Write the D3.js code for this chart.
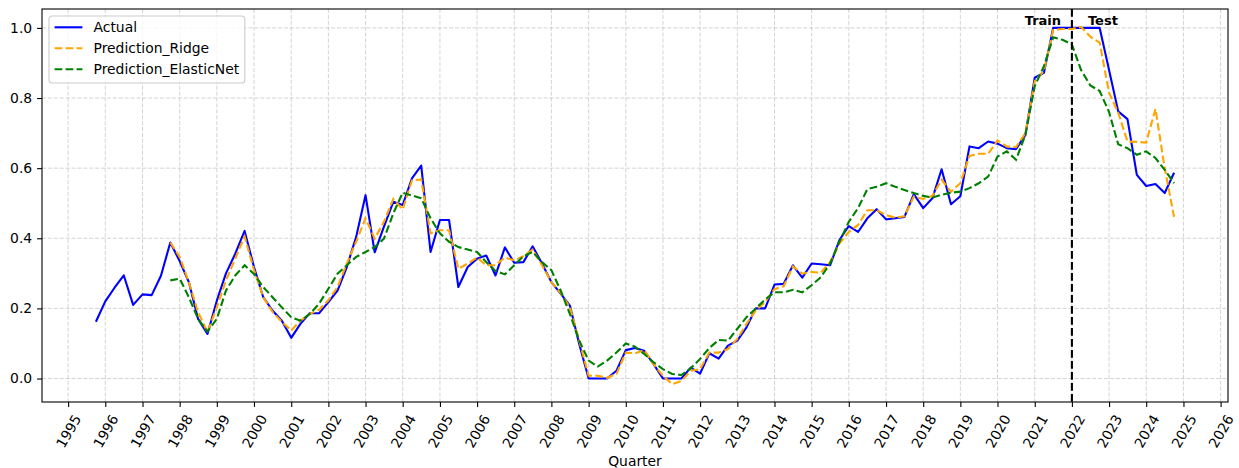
<!DOCTYPE html>
<html>
<head>
<meta charset="utf-8">
<script src="https://cdn.jsdelivr.net/npm/d3@7"></script>
<style>
  html, body { margin: 0; padding: 0; background: #fff; }
  svg { display: block; font-family: "DejaVu Sans", sans-serif; }
</style>
</head>
<body>
<svg id="chart" width="1239" height="468"></svg>
<script>
// Quarterly index, first and last quarter (quarter start dates)
const firstQuarter = "1995-10-01";
const lastQuarter = "2024-10-01";
const splitDate = "2022-01-01";

// Normalised actual series, 1995Q4 .. 2024Q4
const actual = [
  0.162,
  0.220, 0.259, 0.294, 0.210,
  0.240, 0.238, 0.293, 0.388,
  0.335, 0.275, 0.170, 0.127,
  0.222, 0.300, 0.356, 0.421,
  0.318, 0.232, 0.194, 0.165,
  0.116, 0.156, 0.186, 0.186,
  0.218, 0.251, 0.318, 0.404,
  0.523, 0.360, 0.433, 0.504,
  0.495, 0.571, 0.607, 0.361,
  0.452, 0.452, 0.261, 0.318,
  0.342, 0.351, 0.294, 0.374,
  0.330, 0.332, 0.377, 0.328,
  0.275, 0.242, 0.208, 0.098,
  0.000, 0.000, 0.000, 0.022,
  0.081, 0.087, 0.079, 0.041,
  0.000, 0.000, 0.000, 0.031,
  0.014, 0.072, 0.057, 0.094,
  0.108, 0.146, 0.200, 0.200,
  0.268, 0.270, 0.323, 0.288,
  0.328, 0.326, 0.323, 0.395,
  0.435, 0.418, 0.457, 0.483,
  0.454, 0.457, 0.461, 0.526,
  0.486, 0.514, 0.597, 0.497,
  0.520, 0.662, 0.657, 0.676,
  0.670, 0.657, 0.654, 0.695,
  0.858, 0.872, 1.000, 1.000,
  1.000, 1.000, 1.000, 1.000,
  0.880, 0.762, 0.740, 0.581,
  0.549, 0.555, 0.529, 0.587
];

// Ridge predictions, 1997Q4 .. 2024Q4
const predRidge = [
  0.388,
  0.347, 0.275, 0.189, 0.132,
  0.203, 0.280, 0.342, 0.405,
  0.310, 0.232, 0.190, 0.162,
  0.137, 0.165, 0.184, 0.196,
  0.223, 0.261, 0.328, 0.390,
  0.457, 0.399, 0.447, 0.512,
  0.482, 0.565, 0.568, 0.414,
  0.423, 0.423, 0.313, 0.328,
  0.345, 0.323, 0.323, 0.345,
  0.337, 0.349, 0.368, 0.323,
  0.275, 0.244, 0.203, 0.108,
  0.008, 0.008, 0.002, 0.013,
  0.074, 0.072, 0.081, 0.041,
  0.008, -0.016, -0.007, 0.022,
  0.027, 0.074, 0.074, 0.084,
  0.113, 0.156, 0.194, 0.218,
  0.255, 0.263, 0.320, 0.299,
  0.304, 0.302, 0.332, 0.385,
  0.418, 0.438, 0.480, 0.480,
  0.466, 0.459, 0.463, 0.519,
  0.512, 0.521, 0.567, 0.533,
  0.557, 0.635, 0.641, 0.641,
  0.679, 0.662, 0.660, 0.700,
  0.848, 0.877, 0.994, 0.997,
  0.997, 1.003, 0.975, 0.958,
  0.815, 0.758, 0.676, 0.675,
  0.673, 0.769, 0.600, 0.461
];

// ElasticNet predictions, 1997Q4 .. 2024Q4
const predElasticNet = [
  0.280,
  0.285, 0.232, 0.170, 0.134,
  0.170, 0.251, 0.294, 0.323,
  0.298, 0.261, 0.232, 0.203,
  0.175, 0.165, 0.184, 0.213,
  0.256, 0.299, 0.323, 0.347,
  0.361, 0.375, 0.399, 0.471,
  0.530, 0.522, 0.514, 0.457,
  0.414, 0.390, 0.375, 0.368,
  0.361, 0.332, 0.307, 0.297,
  0.323, 0.349, 0.361, 0.332,
  0.309, 0.251, 0.184, 0.108,
  0.051, 0.034, 0.051, 0.074,
  0.100, 0.091, 0.070, 0.046,
  0.027, 0.013, 0.010, 0.029,
  0.056, 0.087, 0.110, 0.108,
  0.142, 0.175, 0.200, 0.225,
  0.246, 0.246, 0.253, 0.246,
  0.266, 0.289, 0.328, 0.390,
  0.447, 0.486, 0.540, 0.547,
  0.557, 0.547, 0.538, 0.529,
  0.521, 0.516, 0.524, 0.530,
  0.533, 0.543, 0.557, 0.576,
  0.633, 0.648, 0.624, 0.695,
  0.834, 0.891, 0.973, 0.966,
  0.953, 0.880, 0.836, 0.820,
  0.760, 0.668, 0.657, 0.638,
  0.648, 0.629, 0.595, 0.557
];

const yearTicks = [1995, 1996, 1997, 1998, 1999, 2000, 2001, 2002, 2003, 2004,
  2005, 2006, 2007, 2008, 2009, 2010, 2011, 2012, 2013, 2014, 2015, 2016,
  2017, 2018, 2019, 2020, 2021, 2022, 2023, 2024, 2025, 2026];
const yTicks = [0.0, 0.2, 0.4, 0.6, 0.8, 1.0];
const seriesNames = ["Actual", "Prediction_Ridge", "Prediction_ElasticNet"];
const seriesColors = ["#0000ff", "#ffa500", "#008000"];

// ---- layout ----
const W = 1239, H = 468;
const margin = { left: 42, top: 9, right: 11, bottom: 66 };
const iw = W - margin.left - margin.right;
const ih = H - margin.top - margin.bottom;
const FONT = 13.9;

const parse = d3.utcParse("%Y-%m-%d");
const quarters = d3.utcMonth.every(3).range(parse(firstQuarter), d3.utcDay.offset(parse(lastQuarter), 1));
const predQuarters = quarters.slice(quarters.length - predRidge.length);

const actualData = quarters.map((d, i) => ({ date: d, value: actual[i] }));
const ridgeData = predQuarters.map((d, i) => ({ date: d, value: predRidge[i] }));
const enetData = predQuarters.map((d, i) => ({ date: d, value: predElasticNet[i] }));

// 5% padding on both axes
const t0 = +quarters[0], t1 = +quarters[quarters.length - 1];
const tpad = (t1 - t0) * 0.05;
const x = d3.scaleUtc().domain([new Date(t0 - tpad), new Date(t1 + tpad)]).range([0, iw]);
const allVals = actual.concat(predRidge, predElasticNet);
const [vmin, vmax] = d3.extent(allVals);
const vpad = (vmax - vmin) * 0.05;
const y = d3.scaleLinear().domain([vmin - vpad, vmax + vpad]).range([ih, 0]);

const svg = d3.select("#chart");
const g = svg.append("g").attr("transform", `translate(${margin.left},${margin.top})`);

const tickDates = yearTicks.map(yr => new Date(Date.UTC(yr, 0, 1)));

// grid
const grid = g.append("g").attr("class", "grid");
grid.selectAll("line.gx").data(tickDates).join("line")
  .attr("x1", d => x(d)).attr("x2", d => x(d))
  .attr("y1", 0).attr("y2", ih)
  .attr("stroke", "#b0b0b0").attr("stroke-opacity", 0.55)
  .attr("stroke-width", 1).attr("stroke-dasharray", "4.1,1.8");
grid.selectAll("line.gy").data(yTicks).join("line")
  .attr("x1", 0).attr("x2", iw)
  .attr("y1", d => y(d)).attr("y2", d => y(d))
  .attr("stroke", "#b0b0b0").attr("stroke-opacity", 0.55)
  .attr("stroke-width", 1).attr("stroke-dasharray", "4.1,1.8");

// series lines
const line = d3.line().x(d => x(d.date)).y(d => y(d.value));
const plot = g.append("g");
plot.append("path").datum(actualData).attr("d", line)
  .attr("fill", "none").attr("stroke", seriesColors[0]).attr("stroke-width", 2.1)
  .attr("stroke-linejoin", "round");
plot.append("path").datum(ridgeData).attr("d", line)
  .attr("fill", "none").attr("stroke", seriesColors[1]).attr("stroke-width", 2.1)
  .attr("stroke-dasharray", "7.7,3.3");
plot.append("path").datum(enetData).attr("d", line)
  .attr("fill", "none").attr("stroke", seriesColors[2]).attr("stroke-width", 2.1)
  .attr("stroke-dasharray", "7.7,3.3");

// train / test split
const sx = x(parse(splitDate));
g.append("line")
  .attr("x1", sx).attr("x2", sx).attr("y1", 0).attr("y2", ih)
  .attr("stroke", "#000").attr("stroke-width", 2.1).attr("stroke-dasharray", "7.7,3.3");
g.append("text").text("Train")
  .attr("x", sx - 29).attr("y", 16)
  .attr("text-anchor", "middle").attr("font-weight", "bold").attr("font-size", 13)
  .attr("fill", "#000");
g.append("text").text("Test")
  .attr("x", sx + 31).attr("y", 16)
  .attr("text-anchor", "middle").attr("font-weight", "bold").attr("font-size", 13)
  .attr("fill", "#000");

// frame
g.append("rect").attr("x", 0).attr("y", 0).attr("width", iw).attr("height", ih)
  .attr("fill", "none").attr("stroke", "#000").attr("stroke-width", 1.1);

// y axis
const yAxis = g.append("g").call(
  d3.axisLeft(y).tickValues(yTicks).tickFormat(d3.format(".1f")).tickSize(4.9).tickPadding(4.9)
);
yAxis.select(".domain").remove();
yAxis.selectAll(".tick line").attr("stroke", "#000").attr("stroke-width", 1.1);
yAxis.selectAll(".tick text").attr("font-size", FONT).attr("fill", "#000")
  .attr("font-family", "DejaVu Sans");

// x axis with labels rotated 60 degrees, centred under each tick
const xAxis = g.append("g").attr("transform", `translate(0,${ih})`).call(
  d3.axisBottom(x).tickValues(tickDates).tickFormat(d3.utcFormat("%Y")).tickSize(4.9)
);
xAxis.select(".domain").remove();
xAxis.selectAll(".tick line").attr("stroke", "#000").attr("stroke-width", 1.1);
xAxis.selectAll(".tick text").each(function () {
  const t = d3.select(this);
  t.attr("font-size", FONT).attr("fill", "#000").attr("font-family", "DejaVu Sans")
   .attr("dy", null).attr("y", null)
   .attr("text-anchor", "middle").attr("dominant-baseline", "central");
  const L = this.getComputedTextLength();
  const h = FONT * 1.164;
  const a = Math.PI / 3;
  const bh = L * Math.sin(a) + h * Math.cos(a);
  const cy = 4.9 + 4.9 + bh / 2;
  t.attr("transform", `translate(0,${cy}) rotate(-60)`);
});

// x axis title
g.append("text").text("Quarter")
  .attr("x", iw / 2).attr("y", ih + 64)
  .attr("text-anchor", "middle").attr("font-size", FONT).attr("fill", "#000");

// legend
const lg = g.append("g").attr("transform", "translate(7,7)");
const rowH = 21;
const legendItems = [
  { name: seriesNames[0], color: seriesColors[0], dash: null },
  { name: seriesNames[1], color: seriesColors[1], dash: "7.7,3.3" },
  { name: seriesNames[2], color: seriesColors[2], dash: "7.7,3.3" }
];
const lbox = lg.append("rect")
  .attr("x", 0).attr("y", 0).attr("rx", 3).attr("ry", 3)
  .attr("fill", "#fff").attr("fill-opacity", 0.8)
  .attr("stroke", "#cccccc").attr("stroke-width", 1.1);
const rows = lg.selectAll("g.row").data(legendItems).join("g")
  .attr("transform", (d, i) => `translate(0,${11.3 + i * rowH})`);
rows.append("line")
  .attr("x1", 5.6).attr("x2", 5.6 + 27.8).attr("y1", 0).attr("y2", 0)
  .attr("stroke", d => d.color).attr("stroke-width", 2.1)
  .attr("stroke-dasharray", d => d.dash);
rows.append("text").text(d => d.name)
  .attr("x", 5.6 + 27.8 + 11.1).attr("y", 0).attr("dominant-baseline", "central")
  .attr("font-size", FONT).attr("fill", "#000");
let maxW = 0;
rows.selectAll("text").each(function () { maxW = Math.max(maxW, this.getComputedTextLength()); });
lbox.attr("width", 5.6 + 27.8 + 11.1 + maxW + 5.6).attr("height", 67);
</script>
</body>
</html>
